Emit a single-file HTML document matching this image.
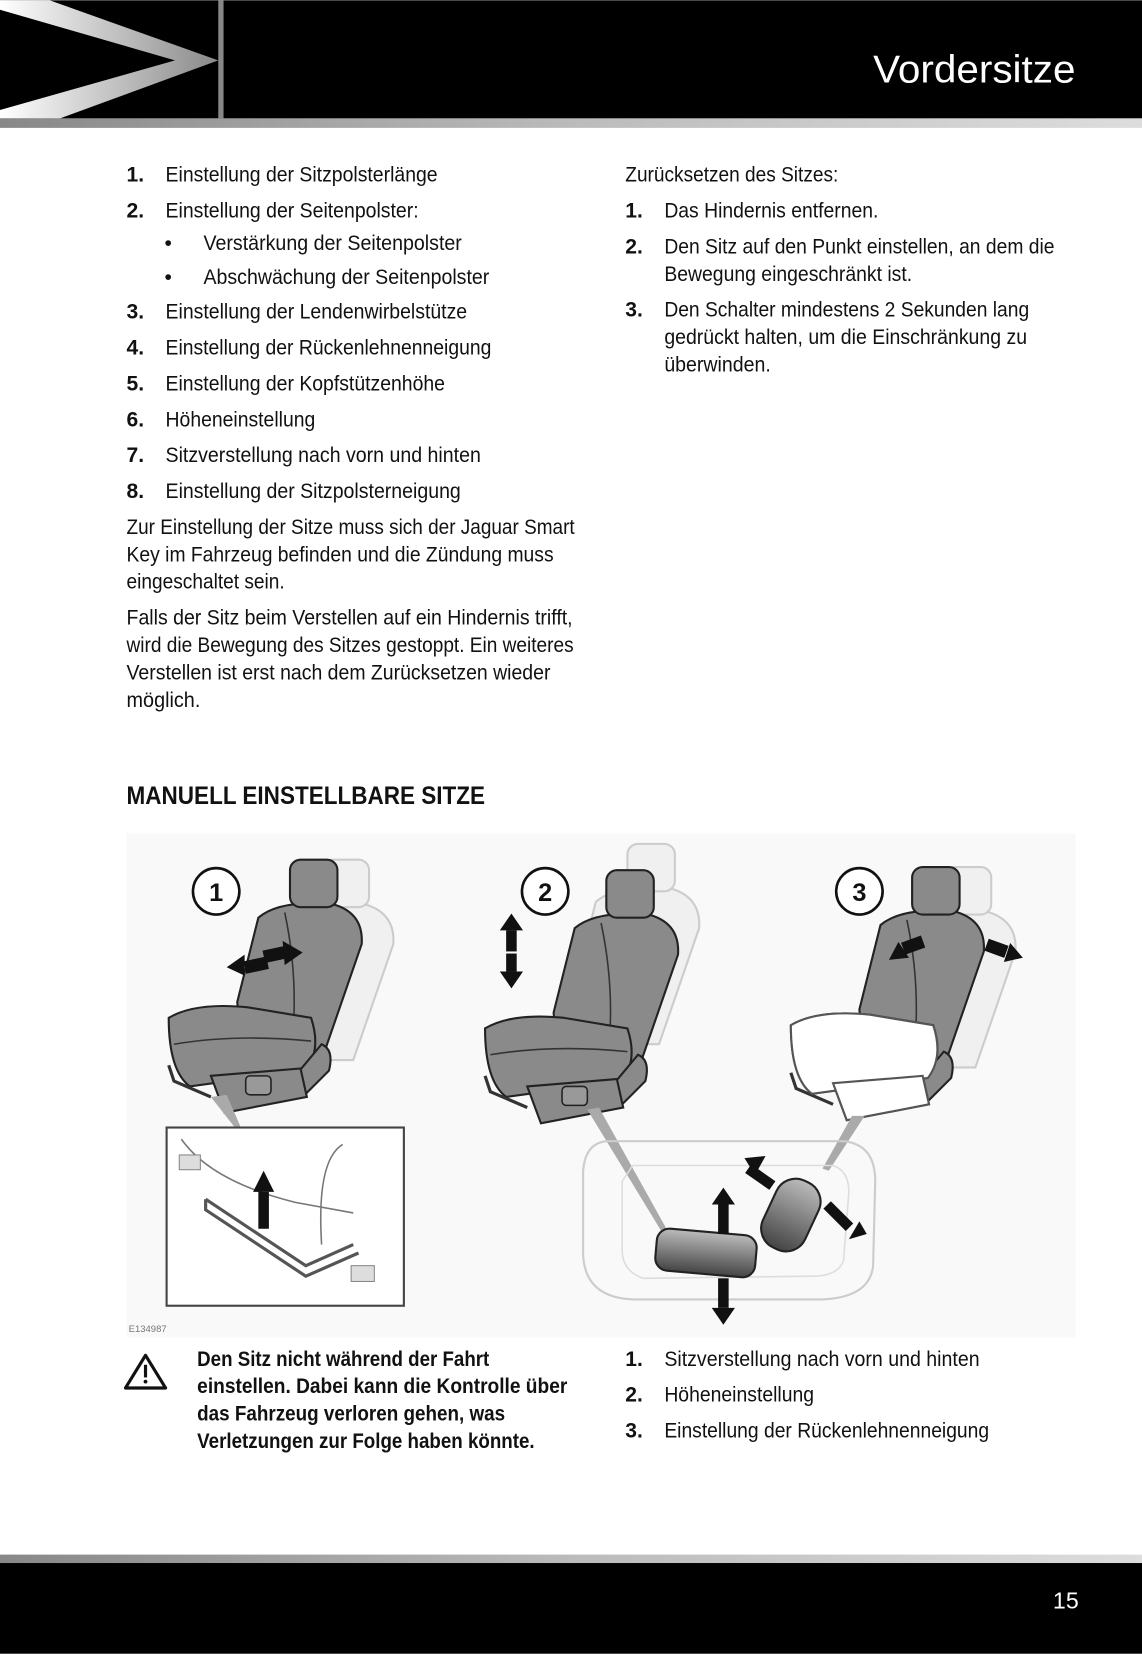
<!DOCTYPE html>
<html><head><meta charset="utf-8"><style>
html,body{margin:0;padding:0;background:#fff;}
svg{display:block;}
text{font-family:"Liberation Sans",sans-serif;}
</style></head><body>
<svg width="1142" height="1654" viewBox="0 0 1083 1568" xmlns="http://www.w3.org/2000/svg">
<defs>
<linearGradient id="chev" x1="0" y1="0" x2="1" y2="0"><stop offset="0" stop-color="#fff"/><stop offset="1" stop-color="#8a8a8a"/></linearGradient>
<linearGradient id="bar" x1="0" y1="0" x2="1" y2="0"><stop offset="0" stop-color="#888"/><stop offset="0.5" stop-color="#bbb"/><stop offset="1" stop-color="#ddd"/></linearGradient>
<linearGradient id="btn" x1="0" y1="0" x2="0" y2="1"><stop offset="0" stop-color="#bbb"/><stop offset="1" stop-color="#444"/></linearGradient>
<g id="seat">
  <path d="M70,135 L90,55 Q110,38 160,42 Q190,50 188,80 L150,190 L75,190 Z" fill="#8a8a8a" stroke="#222" stroke-width="2"/>
  <rect x="120" y="0" width="45" height="45" rx="10" fill="#8a8a8a" stroke="#222" stroke-width="2"/>
  <path d="M115,50 Q130,120 120,190" fill="none" stroke="#333" stroke-width="1.5"/>
  <path d="M5,150 Q30,135 80,140 L140,150 Q150,180 135,200 L25,215 Q5,200 5,150 Z" fill="#8a8a8a" stroke="#222" stroke-width="2"/>
  <path d="M10,175 Q70,165 140,172" fill="none" stroke="#333" stroke-width="1.5"/>
  <path d="M125,205 L150,175 Q162,180 157,200 L135,222 Z" fill="#8a8a8a" stroke="#222" stroke-width="2"/>
  <path d="M45,205 L130,198 L136,225 L58,240 Z" fill="#8a8a8a" stroke="#222" stroke-width="2"/>
  <rect x="78" y="205" width="24" height="18" rx="4" fill="#999" stroke="#222" stroke-width="1.5"/>
  <path d="M5,195 L10,210 L45,225" fill="none" stroke="#333" stroke-width="3"/>
</g>
<g id="ghost">
  <path d="M70,135 L90,55 Q110,38 160,42 Q190,50 188,80 L150,190 L75,190 Z" fill="#f0f0f0" stroke="#ccc" stroke-width="2"/>
  <rect x="120" y="0" width="45" height="45" rx="10" fill="#f0f0f0" stroke="#ccc" stroke-width="2"/>
</g>
</defs>

<!-- header -->
<rect x="0" y="0" width="1083" height="112" fill="#000"/>
<polygon points="0,0 47,0 207,57 57,112 0,112 0,104 166,57 0,9" fill="url(#chev)"/>
<rect x="207" y="0" width="5" height="112" fill="#888"/>
<rect x="0" y="112" width="1083" height="9" fill="url(#bar)"/>
<text x="1020" y="78" text-anchor="end" font-size="37" fill="#fff" textLength="192" lengthAdjust="spacingAndGlyphs">Vordersitze</text>

<!-- left list -->
<g font-size="20" fill="#111">
<text x="120" y="172" font-weight="bold">1.</text><text x="157" y="172" textLength="258" lengthAdjust="spacingAndGlyphs">Einstellung der Sitzpolsterlänge</text>
<text x="120" y="206" font-weight="bold">2.</text><text x="157" y="206" textLength="240" lengthAdjust="spacingAndGlyphs">Einstellung der Seitenpolster:</text>
<text x="156" y="237">•</text><text x="193" y="237" textLength="245" lengthAdjust="spacingAndGlyphs">Verstärkung der Seitenpolster</text>
<text x="156" y="269">•</text><text x="193" y="269" textLength="271" lengthAdjust="spacingAndGlyphs">Abschwächung der Seitenpolster</text>
<text x="120" y="302" font-weight="bold">3.</text><text x="157" y="302" textLength="286" lengthAdjust="spacingAndGlyphs">Einstellung der Lendenwirbelstütze</text>
<text x="120" y="336" font-weight="bold">4.</text><text x="157" y="336" textLength="309" lengthAdjust="spacingAndGlyphs">Einstellung der Rückenlehnenneigung</text>
<text x="120" y="370" font-weight="bold">5.</text><text x="157" y="370" textLength="265" lengthAdjust="spacingAndGlyphs">Einstellung der Kopfstützenhöhe</text>
<text x="120" y="404" font-weight="bold">6.</text><text x="157" y="404" textLength="142" lengthAdjust="spacingAndGlyphs">Höheneinstellung</text>
<text x="120" y="438" font-weight="bold">7.</text><text x="157" y="438" textLength="299" lengthAdjust="spacingAndGlyphs">Sitzverstellung nach vorn und hinten</text>
<text x="120" y="472" font-weight="bold">8.</text><text x="157" y="472" textLength="280" lengthAdjust="spacingAndGlyphs">Einstellung der Sitzpolsterneigung</text>
<text x="120" y="506" textLength="425" lengthAdjust="spacingAndGlyphs">Zur Einstellung der Sitze muss sich der Jaguar Smart</text>
<text x="120" y="532" textLength="405" lengthAdjust="spacingAndGlyphs">Key im Fahrzeug befinden und die Zündung muss</text>
<text x="120" y="558" textLength="150" lengthAdjust="spacingAndGlyphs">eingeschaltet sein.</text>
<text x="120" y="592" textLength="423" lengthAdjust="spacingAndGlyphs">Falls der Sitz beim Verstellen auf ein Hindernis trifft,</text>
<text x="120" y="618" textLength="424" lengthAdjust="spacingAndGlyphs">wird die Bewegung des Sitzes gestoppt. Ein weiteres</text>
<text x="120" y="644" textLength="402" lengthAdjust="spacingAndGlyphs">Verstellen ist erst nach dem Zurücksetzen wieder</text>
<text x="120" y="670" textLength="70" lengthAdjust="spacingAndGlyphs">möglich.</text>

<!-- right column -->
<text x="593" y="172" textLength="202" lengthAdjust="spacingAndGlyphs">Zurücksetzen des Sitzes:</text>
<text x="593" y="206" font-weight="bold">1.</text><text x="630" y="206" textLength="203" lengthAdjust="spacingAndGlyphs">Das Hindernis entfernen.</text>
<text x="593" y="240" font-weight="bold">2.</text><text x="630" y="240" textLength="370" lengthAdjust="spacingAndGlyphs">Den Sitz auf den Punkt einstellen, an dem die</text>
<text x="630" y="266" textLength="235" lengthAdjust="spacingAndGlyphs">Bewegung eingeschränkt ist.</text>
<text x="593" y="300" font-weight="bold">3.</text><text x="630" y="300" textLength="346" lengthAdjust="spacingAndGlyphs">Den Schalter mindestens 2 Sekunden lang</text>
<text x="630" y="326" textLength="344" lengthAdjust="spacingAndGlyphs">gedrückt halten, um die Einschränkung zu</text>
<text x="630" y="352" textLength="101" lengthAdjust="spacingAndGlyphs">überwinden.</text>

<text x="120" y="762" font-size="24" font-weight="bold" textLength="340" lengthAdjust="spacingAndGlyphs">MANUELL EINSTELLBARE SITZE</text>

<!-- bottom texts -->
<text x="593" y="1295" font-weight="bold">1.</text><text x="630" y="1295" textLength="299" lengthAdjust="spacingAndGlyphs">Sitzverstellung nach vorn und hinten</text>
<text x="593" y="1329" font-weight="bold">2.</text><text x="630" y="1329" textLength="142" lengthAdjust="spacingAndGlyphs">Höheneinstellung</text>
<text x="593" y="1363" font-weight="bold">3.</text><text x="630" y="1363" textLength="308" lengthAdjust="spacingAndGlyphs">Einstellung der Rückenlehnenneigung</text>
<g font-weight="bold">
<text x="187" y="1295" textLength="277" lengthAdjust="spacingAndGlyphs">Den Sitz nicht während der Fahrt</text>
<text x="187" y="1321" textLength="351" lengthAdjust="spacingAndGlyphs">einstellen. Dabei kann die Kontrolle über</text>
<text x="187" y="1347" textLength="292" lengthAdjust="spacingAndGlyphs">das Fahrzeug verloren gehen, was</text>
<text x="187" y="1373" textLength="320" lengthAdjust="spacingAndGlyphs">Verletzungen zur Folge haben könnte.</text>
</g>
</g>
<!-- warning icon -->
<path d="M138,1285 L157,1316 L119,1316 Z" fill="none" stroke="#111" stroke-width="3" stroke-linejoin="round"/>
<rect x="136.5" y="1294" width="3" height="12" fill="#111"/><circle cx="138" cy="1310" r="1.8" fill="#111"/>

<!-- illustration -->
<rect x="120" y="790" width="900" height="478" fill="#f9f9f9"/>
<use href="#ghost" x="185" y="815"/>
<use href="#seat" x="155" y="815"/>
<use href="#ghost" x="475" y="800"/>
<use href="#seat" x="455" y="825"/>
<use href="#ghost" x="775" y="822"/>
<use href="#seat" x="745" y="822"/>
<path d="M750,972 Q775,957 825,962 L885,972 Q895,1002 880,1022 L770,1037 Q750,1022 750,972 Z" fill="#fff" stroke="#555" stroke-width="2"/>
<path d="M790,1027 L875,1020 L881,1047 L803,1062 Z" fill="#fff" stroke="#555" stroke-width="2"/>

<g stroke="#111" stroke-width="2.5" fill="#fff">
<circle cx="205" cy="845" r="22"/><circle cx="517" cy="845" r="22"/><circle cx="815" cy="845" r="22"/>
</g>
<g font-size="24" font-weight="bold" fill="#111" text-anchor="middle">
<text x="205" y="854">1</text><text x="517" y="854">2</text><text x="815" y="854">3</text>
</g>
<!-- arrows -->
<g fill="#111">
<polygon points="215,917 232,905 232,925"/><rect x="232" y="909" width="22" height="12" transform="rotate(-12 243 915)"/>
<polygon points="287,903 268,892 270,915"/><rect x="250" y="899" width="20" height="12" transform="rotate(-12 260 905)"/>
<polygon points="485,866 474,882 496,882"/><rect x="480" y="882" width="10" height="20"/>
<polygon points="485,937 474,921 496,921"/><rect x="480" y="904" width="10" height="17"/>
<polygon points="843,910 852,893 862,908"/><rect x="856" y="890" width="20" height="12" transform="rotate(-20 866 896)"/>
<polygon points="970,908 958,894 952,912"/><rect x="935" y="893" width="20" height="12" transform="rotate(20 945 899)"/>
</g>
<!-- callouts -->
<polygon points="200,1040 215,1038 228,1068 222,1068" fill="#aaa"/>
<polygon points="557,1052 568,1050 632,1165 627,1167" fill="#aaa"/>
<polygon points="808,1058 820,1058 786,1110 780,1108" fill="#aaa"/>
<!-- inset -->
<rect x="158" y="1069" width="225" height="169" fill="#fff" stroke="#444" stroke-width="2"/>
<path d="M172,1080 Q200,1120 280,1140 L335,1150 M325,1085 Q300,1100 305,1180" fill="none" stroke="#777" stroke-width="1.5"/>
<path d="M195,1137 L290,1200 L335,1180 M195,1137 L195,1147 L290,1210 L340,1188" fill="none" stroke="#555" stroke-width="3"/>
<polygon points="250,1110 240,1130 260,1130" fill="#111"/><rect x="245" y="1130" width="10" height="35" fill="#111"/>
<rect x="170" y="1095" width="20" height="14" fill="#ddd" stroke="#888"/><rect x="333" y="1200" width="22" height="15" fill="#ddd" stroke="#888"/>
<!-- control panel -->
<path d="M575,1082 L800,1082 Q830,1085 830,1120 L828,1200 Q825,1230 780,1232 L600,1232 Q555,1230 553,1190 L553,1110 Q555,1084 575,1082 Z" fill="none" stroke="#ccc" stroke-width="2"/>
<path d="M600,1105 L790,1105 Q805,1110 805,1130 L800,1195 Q795,1210 770,1210 L610,1212 Q590,1205 590,1185 L590,1120 Z" fill="none" stroke="#ddd" stroke-width="1.5"/>
<rect x="622" y="1168" width="95" height="40" rx="12" fill="url(#btn)" stroke="#222" stroke-width="2" transform="rotate(5 670 1188)"/>
<rect x="728" y="1117" width="44" height="70" rx="20" fill="url(#btn)" stroke="#222" stroke-width="2" transform="rotate(25 750 1152)"/>
<g fill="#111">
<polygon points="686,1126 675,1142 697,1142"/><rect x="681" y="1142" width="10" height="28"/>
<polygon points="686,1256 675,1240 697,1240"/><rect x="681" y="1212" width="10" height="28"/>
<polygon points="706,1098 726,1096 716,1114"/><rect x="716" y="1102" width="10" height="28" transform="rotate(-55 721 1116)"/>
<polygon points="822,1170 805,1175 815,1158"/><rect x="790" y="1138" width="10" height="30" transform="rotate(-45 795 1153)"/>
</g>
<text x="122" y="1263" font-size="9" fill="#777">E134987</text>

<!-- footer -->
<rect x="0" y="1474" width="1083" height="8" fill="url(#bar)"/>
<rect x="0" y="1482" width="1083" height="86" fill="#000"/>
<text x="1023" y="1525" text-anchor="end" font-size="22" fill="#fff">15</text>
</svg>
</body></html>
